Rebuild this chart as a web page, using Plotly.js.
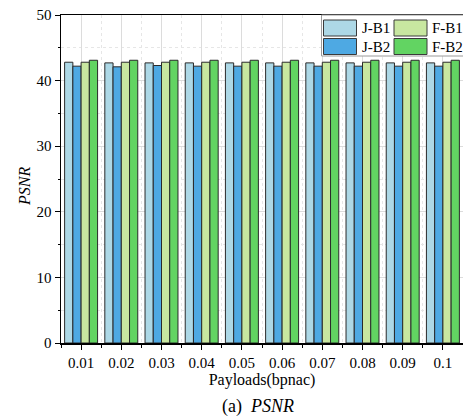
<!DOCTYPE html>
<html>
<head>
<meta charset="utf-8">
<script src="https://cdn.plot.ly/plotly-3.0.1.min.js"></script>
<style>html,body{margin:0;padding:0;background:#fff;}#chart{width:463px;height:416px;}</style>
</head>
<body>
<div id="chart"></div>
<script>
// ---- data ----
const categories = ["0.01","0.02","0.03","0.04","0.05","0.06","0.07","0.08","0.09","0.1"];
const seriesNames = ["J-B1","J-B2","F-B1","F-B2"];
const jb1 = [42.8, 42.7, 42.7, 42.7, 42.7, 42.7, 42.7, 42.7, 42.7, 42.7];
const jb2 = [42.2, 42.1, 42.3, 42.2, 42.2, 42.2, 42.2, 42.2, 42.2, 42.2];
const fb1 = [42.8, 42.8, 42.8, 42.8, 42.8, 42.8, 42.8, 42.8, 42.8, 42.8];
const fb2 = [43.1, 43.1, 43.1, 43.1, 43.1, 43.1, 43.1, 43.1, 43.1, 43.1];
const seriesValues = [jb1, jb2, fb1, fb2];
const colors = ["#add8e6", "#4ea9e3", "#c8e7a0", "#62d462"];

const W = 463, H = 416;
const M = {l: 61, r: 0, t: 15, b: 73};
const pw = W - M.l - M.r, ph = H - M.t - M.b;
const px2x = p => (p - M.l) / pw;
const px2y = p => (H - M.b - p) / ph;

const xIdx = categories.map((c, i) => i);
const font = "Liberation Serif, Times New Roman, serif";

const traces = seriesNames.map((n, k) => ({
  type: "bar", name: n, x: xIdx, y: seriesValues[k],
  marker: {color: colors[k], line: {color: "#2a2a2a", width: 1}},
  showlegend: false, hoverinfo: "skip"
}));

// legend drawn with shapes + annotations
const shapes = [];
const annotations = [];
shapes.push({type: "rect", xref: "paper", yref: "paper",
  x0: px2x(321.5), x1: px2x(470), y0: px2y(56), y1: px2y(15),
  line: {color: "#9a9a9a", width: 1}, fillcolor: "rgba(255,255,255,1)", layer: "above"});
const legendPos = [
  {k: 0, sx: 323.5, ty: 20}, {k: 2, sx: 394, ty: 20},
  {k: 1, sx: 323.5, ty: 38.5}, {k: 3, sx: 394, ty: 38.5}
];
legendPos.forEach(p => {
  shapes.push({type: "rect", xref: "paper", yref: "paper",
    x0: px2x(p.sx), x1: px2x(p.sx + 33), y0: px2y(p.ty + 16), y1: px2y(p.ty),
    line: {color: "#3a3a3a", width: 1}, fillcolor: colors[p.k], layer: "above"});
  annotations.push({xref: "paper", yref: "paper", x: px2x(p.sx + 36), y: px2y(p.ty + 8),
    xanchor: "left", yanchor: "middle", showarrow: false, text: seriesNames[p.k],
    font: {family: font, size: 15, color: "#000"}});
});
annotations.push({xref: "paper", yref: "paper", x: px2x(258), y: px2y(406),
  xanchor: "center", yanchor: "middle", showarrow: false,
  text: "(a)  <i>PSNR</i>", font: {family: font, size: 18, color: "#000"}});
annotations.push({xref: "paper", yref: "paper", x: px2x(24), y: px2y(187),
  xanchor: "center", yanchor: "middle", showarrow: false, textangle: -90,
  text: "<i>PSNR</i>", font: {family: font, size: 16, color: "#000"}});

const layout = {
  width: W, height: H, margin: M,
  paper_bgcolor: "#fff", plot_bgcolor: "#fff",
  barmode: "group", bargap: 0.18, bargroupgap: 0,
  font: {family: font, size: 15, color: "#000"},
  xaxis: {
    range: [-0.5, 9.5], tickmode: "array", tickvals: xIdx, ticktext: categories,
    showline: true, linecolor: "#000", linewidth: 1.5, mirror: true,
    ticks: "outside", ticklen: 5, tickcolor: "#000", tickwidth: 1,
    showgrid: true, gridcolor: "#dcdcdc", gridwidth: 1, zeroline: false,
    minor: {tickmode: "linear", tick0: 0.5, dtick: 1, ticks: "outside", ticklen: 3,
      tickcolor: "#000", showgrid: true, gridcolor: "#e6e6e6", griddash: "dot"},
    title: {text: "Payloads(bpnac)", font: {family: font, size: 16}, standoff: 4},
    tickfont: {family: font, size: 15}
  },
  yaxis: {
    range: [0, 50], dtick: 10, showline: true, linecolor: "#000", linewidth: 1.5,
    ticks: "outside", ticklen: 5, tickcolor: "#000", tickwidth: 1,
    showgrid: true, gridcolor: "#dcdcdc", gridwidth: 1, zeroline: false,
    minor: {dtick: 5, ticks: "outside", ticklen: 2, tickcolor: "#000",
      showgrid: true, gridcolor: "#e6e6e6", griddash: "dot"},
    tickfont: {family: font, size: 15}
  },
  shapes: shapes, annotations: annotations, showlegend: false
};

Plotly.newPlot("chart", traces, layout, {staticPlot: true, displayModeBar: false});
</script>
</body>
</html>
